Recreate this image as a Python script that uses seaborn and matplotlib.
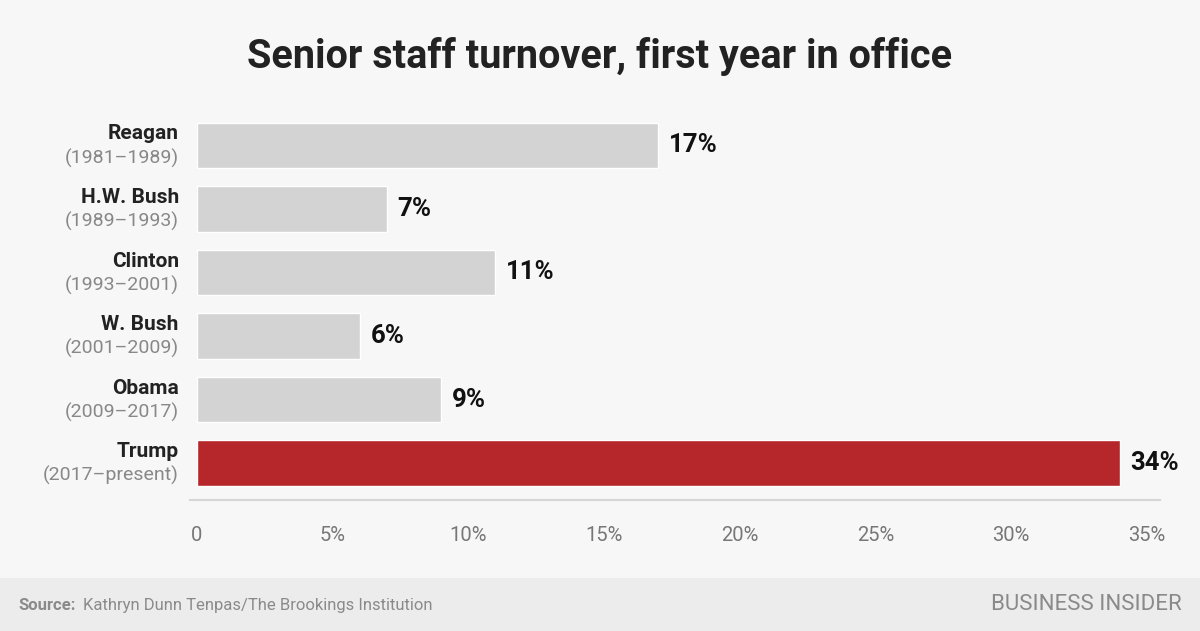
import matplotlib
matplotlib.use("Agg")
import matplotlib.pyplot as plt
import matplotlib.transforms as mtransforms
import seaborn as sns
import pandas as pd

# chart data
presidents = ["Reagan", "H.W. Bush", "Clinton", "W. Bush", "Obama", "Trump"]
terms = ["(1981\u20131989)", "(1989\u20131993)", "(1993\u20132001)",
         "(2001\u20132009)", "(2009\u20132017)", "(2017\u2013present)"]
turnover = [17, 7, 11, 6, 9, 34]
tick_values = [0, 5, 10, 15, 20, 25, 30, 35]
tick_labels = ["0", "5%", "10%", "15%", "20%", "25%", "30%", "35%"]

bar_colors = ["#d3d3d3"] * 5 + ["#b5272a"]

df = pd.DataFrame({"president": presidents, "term": terms, "turnover": turnover})

sns.set_theme(style="white")
plt.rcParams["font.family"] = ["Roboto", "DejaVu Sans"]

bg = "#f7f7f7"
fig = plt.figure(figsize=(12, 6.31), dpi=100, facecolor=bg)
ax = fig.add_axes([0.164, 0.2076, 0.803, 0.6224], facecolor=bg)

sns.barplot(data=df, y="president", x="turnover", hue="president",
            palette=bar_colors, legend=False, orient="h", width=0.72,
            saturation=1, ax=ax)

ax.set_xlim(0, 35.5)
ax.set_ylim(5.58, -0.6)
ax.set_xlabel("")
ax.set_ylabel("")
ax.set_yticks([])
ax.set_xticks(tick_values)
ax.set_xticklabels(tick_labels, color="#777777", fontsize=14.5)
ax.tick_params(axis="x", length=0, pad=19)

for side in ["top", "right", "left"]:
    ax.spines[side].set_visible(False)
ax.spines["bottom"].set_color("#d6d6d6")
ax.spines["bottom"].set_linewidth(1.5)
ax.spines["bottom"].set_bounds(-0.25, 35.5)
ax.spines["bottom"].set_clip_on(False)

# value labels
for i, v in enumerate(turnover):
    ax.text(v + 0.4, i, f"{v}%", va="center", ha="left",
            fontsize=18.5, fontweight="bold", color="#111111")

# category labels
trans = mtransforms.blended_transform_factory(fig.transFigure, ax.transData)
for i, (name, term) in enumerate(zip(presidents, terms)):
    ax.text(0.149, i - 0.18, name, transform=trans, ha="right", va="center",
            fontsize=15, fontweight="bold", color="#222222")
    ax.text(0.149, i + 0.2, term, transform=trans, ha="right", va="center",
            fontsize=14, color="#888888")

fig.text(0.5, 0.91, "Senior staff turnover, first year in office",
         ha="center", va="center", fontsize=28.5, fontweight="bold", color="#222222")

# footer band
fig.patches.append(plt.Rectangle((0, 0), 1, 53 / 631, transform=fig.transFigure,
                                 facecolor="#ececec", edgecolor="none", zorder=0))
fig.text(0.015, 0.04, "Source:", ha="left", va="center", fontsize=12,
         fontweight="bold", color="#8a8a8a")
fig.text(0.069, 0.04, "Kathryn Dunn Tenpas/The Brookings Institution",
         ha="left", va="center", fontsize=12, color="#8a8a8a")
fig.text(0.985, 0.042, "BUSINESS INSIDER", ha="right", va="center",
         fontsize=16, color="#8a8a8a")

fig.savefig("out.png", dpi=100, facecolor=bg)
